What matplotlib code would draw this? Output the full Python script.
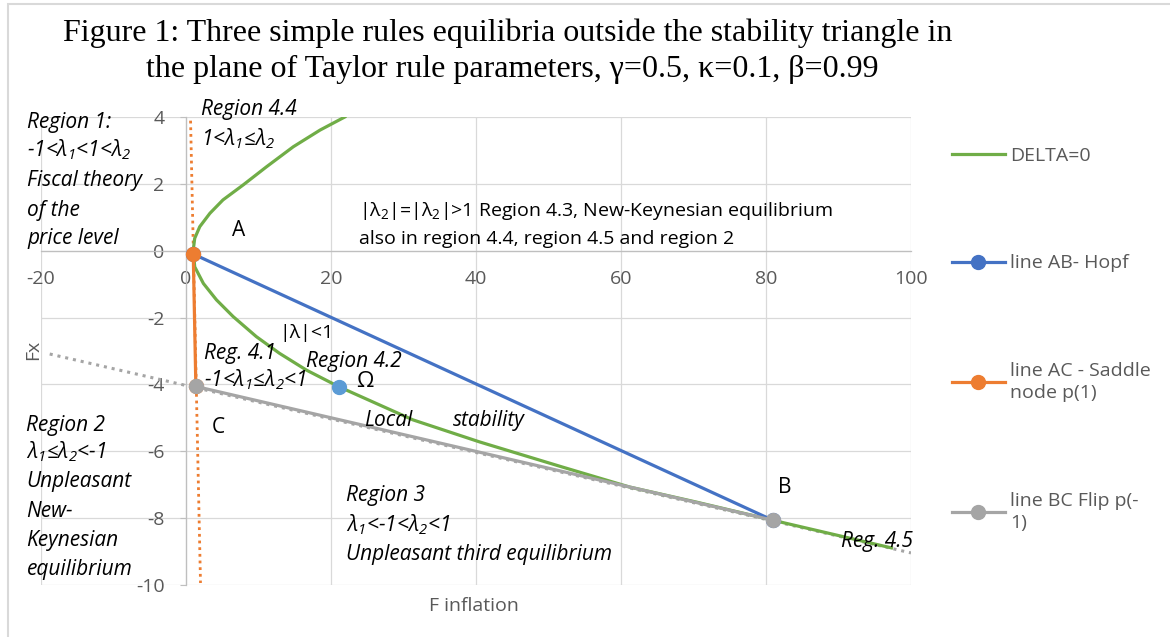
import matplotlib
matplotlib.use("Agg")
import matplotlib.pyplot as plt
from matplotlib.patches import Rectangle

plt.rcParams['font.family'] = ['Open Sans', 'DejaVu Sans']
plt.rcParams['mathtext.default'] = 'regular'
plt.rcParams['axes.unicode_minus'] = False

# DELTA=0 curve
delta_x = [21.9, 18.5, 14.8, 11.1, 7.9, 5.1, 3.3, 1.9, 1.2, 1.0,
           1.2, 2.4, 4.2, 6.5, 9.7, 12.9, 16.6, 21.1, 31.3, 40.5, 51.9, 61.2, 70.4, 80.9, 97.3]
delta_y = [4.0, 3.61, 3.11, 2.51, 1.97, 1.52, 1.12, 0.72, 0.37, 0.02,
           -0.48, -0.98, -1.47, -1.97, -2.57, -3.07, -3.57, -4.07, -5.06, -5.72, -6.47, -7.07, -7.52, -8.06, -8.89]

# corner points A, B, C and Omega
A = (1.0, -0.1)
B = (80.9, -8.06)
C = (1.36, -4.06)
omega = (21.1, -4.07)

ab_x, ab_y = [A[0], B[0]], [A[1], B[1]]
ac_x, ac_y = [A[0], C[0]], [A[1], C[1]]
bc_x, bc_y = [C[0], B[0]], [C[1], B[1]]

# dotted extensions
ac_ext_x, ac_ext_y = [0.63, 2.0], [3.89, -9.94]
bc_ext_x, bc_ext_y = [-18.8, 100.0], [-3.09, -9.04]

x_ticks = [-20, 0, 20, 40, 60, 80, 100]
y_ticks = [-10, -8, -6, -4, -2, 0, 2, 4]

green, blue, orange, gray, light_blue = '#70AD47', '#4472C4', '#ED7D31', '#A5A5A5', '#5B9BD5'
txt_gray = '#595959'

fig = plt.figure(figsize=(11.7, 6.37), dpi=100)
W, H = 1170, 637
ax = fig.add_axes([41 / W, 1 - 585 / H, (911 - 41) / W, (585 - 117) / H])

# chart border
fig.add_artist(Rectangle((8 / W, -0.1), 1.2, 1 - 4 / H + 0.1, transform=fig.transFigure,
                         fill=False, edgecolor='#d9d9d9', lw=1.5))

ax.plot(bc_ext_x, bc_ext_y, color=gray, lw=2.2, ls=(0, (1, 1.6)), zorder=2)
ax.plot(ac_ext_x, ac_ext_y, color=orange, lw=2.0, ls=(0, (1, 1.4)), zorder=2)
l1, = ax.plot(delta_x, delta_y, color=green, lw=2.3, zorder=3, label='DELTA=0')
l2, = ax.plot(ab_x, ab_y, color=blue, lw=2.3, marker='o', ms=10, zorder=4, label='line AB- Hopf')
l3, = ax.plot(ac_x, ac_y, color=orange, lw=2.3, marker='o', ms=10, zorder=5,
              label='line AC - Saddle\nnode p(1)')
l4, = ax.plot(bc_x, bc_y, color=gray, lw=2.3, marker='o', ms=10, zorder=6,
              label='line BC Flip p(-\n1)')
ax.plot(*omega, marker='o', color=light_blue, ms=10, zorder=6)

ax.set_xlim(-20, 100)
ax.set_ylim(-10, 4)
ax.set_xticks(x_ticks)
ax.set_yticks(y_ticks)
ax.grid(True, color='#d9d9d9', lw=0.9)
ax.set_axisbelow(True)
for s in ['top', 'right']:
    ax.spines[s].set_visible(False)
ax.spines['left'].set_position(('data', 0))
ax.spines['bottom'].set_position(('data', 0))
for s in ['left', 'bottom']:
    ax.spines[s].set_color('#bfbfbf')
    ax.spines[s].set_linewidth(0.9)
ax.tick_params(axis='x', length=0, pad=14, labelsize=14, labelcolor=txt_gray)
ax.tick_params(axis='y', length=4.5, direction='out', color='#bfbfbf', pad=11,
               labelsize=14, labelcolor=txt_gray)

fig.text(474 / W, 1 - 606 / H, 'F inflation', ha='center', va='center', fontsize=14, color=txt_gray)
fig.text(33 / W, 1 - 350 / H, 'Fx', ha='center', va='center', rotation=90, fontsize=14, color=txt_gray)

# title
fig.text(512 / W, 1 - 41 / H, 'Figure 1: Three simple rules equilibria outside the stability triangle in ',
         ha='center', va='baseline', fontsize=23, family='Liberation Serif')
fig.text(512 / W, 1 - 77 / H, 'the plane of Taylor rule parameters, \u03b3=0.5, \u03ba=0.1, \u03b2=0.99',
         ha='center', va='baseline', fontsize=23, family='Liberation Serif')


def block(x, ys, lines, style='italic', size=15):
    for y, s in zip(ys, lines):
        ax.text(x, y, s, style=style, fontsize=size, va='baseline', ha='left', clip_on=False, zorder=8)


block(-21.9, [3.66, 2.83, 1.93, 1.04, 0.20],
      ['Region 1:', '-1<\u03bb$_1$<1<\u03bb$_2$', 'Fiscal theory', 'of the', 'price level'])
block(2.1, [4.05, 3.16], ['Region 4.4', '1<\u03bb$_1$\u2264\u03bb$_2$'])
block(6.4, [0.44], ['A'], style='normal', size=15)
block(23.9, [1.03, 0.20], ['|\u03bb$_2$|=|\u03bb$_2$|>1 Region 4.3, New-Keynesian equilibrium',
                           'also in region 4.4, region 4.5 and region 2'], style='normal', size=14)
block(12.9, [-2.6], ['|\u03bb|<1'], style='normal', size=14)
block(2.5, [-3.23, -4.07], ['Reg. 4.1', '-1<\u03bb$_1$\u2264\u03bb$_2$<1'])
block(16.5, [-3.47], ['Region 4.2'])
block(23.5, [-4.07], ['\u03a9'], style='normal', size=16)
block(24.6, [-5.23], ['Local'])
block(36.8, [-5.23], ['stability'])
block(3.6, [-5.44], ['C'], style='normal', size=15)
block(-22.0, [-5.38, -6.22, -7.08, -7.98, -8.84, -9.71],
      ['Region 2', '\u03bb$_1$\u2264\u03bb$_2$<-1', 'Unpleasant', 'New-', 'Keynesian', 'equilibrium'])
block(22.0, [-7.5, -8.4, -9.24], ['Region 3', '\u03bb$_1$<-1<\u03bb$_2$<1', 'Unpleasant third equilibrium'])
block(81.7, [-7.26], ['B'], style='normal', size=15)
block(90.4, [-8.85], ['Reg. 4.5'])

leg = fig.legend(handles=[l1, l2, l3, l4], loc='upper left', bbox_to_anchor=(952 / W, 1 - 147 / H),
                 frameon=False, borderaxespad=0, borderpad=0, fontsize=14, labelcolor=txt_gray,
                 handlelength=2.7, handletextpad=0.3, labelspacing=4.6)
for t in leg.get_texts():
    t.set_linespacing(1.3)

fig.savefig('out.png', dpi=100)
